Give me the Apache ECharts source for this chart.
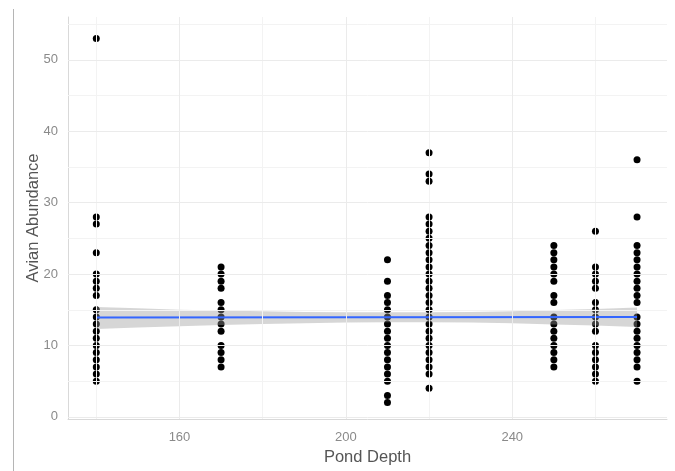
<!DOCTYPE html>
<html>
<head>
<meta charset="utf-8">
<script src="https://cdn.jsdelivr.net/npm/echarts@6/dist/echarts.min.js"></script>
<style>
html,body{margin:0;padding:0;background:#fff;}
#chart{width:675px;height:471px;}
</style>
</head>
<body>
<div id="chart"></div>
<script>
// Pond depth levels and avian abundance values per depth
const depthLevels = [140, 170, 210, 220, 250, 260, 270];
const abundance140 = [53, 28, 27, 23, 20, 19, 18, 17, 15, 14, 13, 12, 11, 10, 9, 8, 7, 6, 5];
const abundance170 = [21, 20, 19, 18, 16, 15, 14, 13, 12, 10, 9, 8, 7];
const abundance210 = [22, 19, 17, 16, 15, 14, 13, 12, 11, 10, 9, 8, 7, 6, 5, 3, 2];
const abundance220 = [37, 34, 33, 28, 27, 26, 25, 24, 23, 22, 21, 20, 19, 18, 17, 16, 15, 14, 13, 12, 11, 10, 9, 8, 7, 6, 4];
const abundance250 = [24, 23, 22, 21, 20, 19, 17, 16, 14, 13, 12, 11, 10, 9, 8, 7];
const abundance260 = [26, 21, 20, 19, 18, 16, 15, 14, 13, 12, 10, 9, 8, 7, 6, 5];
const abundance270 = [36, 28, 24, 23, 22, 21, 20, 19, 18, 17, 16, 14, 13, 12, 11, 10, 9, 8, 7, 5];

// Linear fit line and confidence band
const fitX = [140, 270];
const fitY = [13.9, 14.0];
const bandX = [140, 150, 160, 170, 180, 190, 200, 210, 220, 230, 240, 250, 260, 270];
const bandLower = [12.3, 12.5, 12.7, 12.85, 13.0, 13.1, 13.2, 13.25, 13.25, 13.2, 13.1, 12.95, 12.8, 12.6];
const bandUpper = [15.4, 15.2, 15.0, 14.9, 14.8, 14.7, 14.65, 14.65, 14.65, 14.7, 14.8, 14.95, 15.1, 15.3];

// Ticks and grid lines
const xTickLabels = [160, 200, 240];
const yTickLabels = [0, 10, 20, 30, 40, 50];
const xMajorGrid = [160, 200, 240];
const xMinorGrid = [140, 180, 220, 260];
const yMajorGrid = [0, 10, 20, 30, 40, 50];
const yMinorGrid = [5, 15, 25, 35, 45, 55];

const allAbundance = [abundance140, abundance170, abundance210, abundance220, abundance250, abundance260, abundance270];
const points = [];
depthLevels.forEach((d, i) => {
  allAbundance[i].forEach(v => points.push([d, v]));
});

const FONT = 'Liberation Sans, Arial, sans-serif';

const chart = echarts.init(document.getElementById('chart'), null, {renderer: 'canvas'});

const gridLines = [];
xMinorGrid.forEach(v => gridLines.push({xAxis: v, lineStyle: {color: '#f3f3f3', width: 1, type: 'solid'}}));
yMinorGrid.forEach(v => gridLines.push({yAxis: v, lineStyle: {color: '#f3f3f3', width: 1, type: 'solid'}}));
xMajorGrid.forEach(v => gridLines.push({xAxis: v, lineStyle: {color: '#ebebeb', width: 1, type: 'solid'}}));
yMajorGrid.forEach(v => gridLines.push({yAxis: v, lineStyle: {color: '#ebebeb', width: 1, type: 'solid'}}));

chart.setOption({
  animation: false,
  backgroundColor: '#ffffff',
  grid: {left: 68, right: 8, top: 17, bottom: 51, containLabel: false},
  xAxis: {
    type: 'value',
    min: 133.2,
    max: 277.2,
    name: 'Pond Depth',
    nameLocation: 'middle',
    nameGap: 30,
    nameMoveOverlap: false,
    nameTextStyle: {color: '#555555', fontSize: 16.5, fontFamily: FONT},
    axisLine: {show: true, onZero: false, lineStyle: {color: '#d9d9d9', width: 1}},
    axisTick: {show: false},
    splitLine: {show: false},
    axisLabel: {
      customValues: xTickLabels,
      color: '#8a8a8a', fontSize: 13, fontFamily: FONT, margin: 12
    }
  },
  yAxis: {
    type: 'value',
    min: -0.3,
    max: 56,
    name: 'Avian Abundance',
    nameLocation: 'middle',
    nameRotate: 90,
    nameGap: 26,
    nameMoveOverlap: false,
    nameTextStyle: {color: '#555555', fontSize: 16.5, fontFamily: FONT},
    axisLine: {show: true, onZero: false, lineStyle: {color: '#d9d9d9', width: 1}},
    axisTick: {show: false},
    splitLine: {show: false},
    axisLabel: {
      customValues: yTickLabels,
      color: '#8a8a8a', fontSize: 13, fontFamily: FONT, margin: 10
    }
  },
  graphic: [{
    type: 'line',
    shape: {x1: 13.5, y1: 9, x2: 13.5, y2: 471},
    style: {stroke: '#b5b5b5', lineWidth: 1},
    silent: true
  }],
  series: [
    {
      type: 'line',
      data: [],
      silent: true,
      z: 0,
      markLine: {
        silent: true,
        symbol: 'none',
        label: {show: false},
        emphasis: {disabled: true},
        data: gridLines
      }
    },
    {
      type: 'scatter',
      data: points,
      symbol: 'circle',
      symbolSize: 7,
      large: false,
      itemStyle: {color: '#000000', opacity: 1, borderWidth: 0},
      emphasis: {disabled: true},
      z: 2
    },
    {
      type: 'custom',
      z: 3,
      silent: true,
      data: [0],
      renderItem: function (params, api) {
        const pts = [];
        for (let i = 0; i < bandX.length; i++) pts.push(api.coord([bandX[i], bandUpper[i]]));
        for (let i = bandX.length - 1; i >= 0; i--) pts.push(api.coord([bandX[i], bandLower[i]]));
        return {
          type: 'polygon',
          shape: {points: pts},
          style: {fill: 'rgba(153,153,153,0.4)'}
        };
      }
    },
    {
      type: 'line',
      z: 4,
      data: fitX.map((x, i) => [x, fitY[i]]),
      symbol: 'none',
      lineStyle: {color: '#3366FF', width: 2},
      silent: true
    }
  ]
});
</script>
</body>
</html>
